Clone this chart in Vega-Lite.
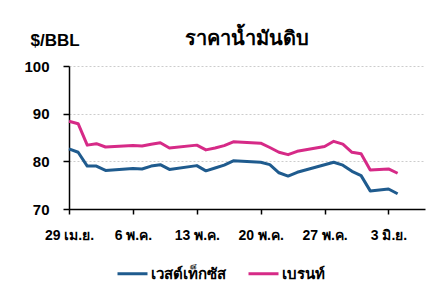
{
  "$schema": "https://vega.github.io/schema/vega-lite/v6.json",
  "autosize": "none",
  "width": 356,
  "height": 143,
  "padding": {"left": 69, "top": 66, "right": 6, "bottom": 77},
  "background": "white",
  "title": {
    "text": "ราคาน้ำมันดิบ",
    "anchor": "middle",
    "fontSize": 20,
    "fontWeight": "bold",
    "font": "Liberation Sans",
    "color": "#000000",
    "offset": -18
  },
  "config": {
    "view": {"stroke": null},
    "font": "Liberation Sans"
  },
  "data": {
    "values": [
      {"date": "2024-04-29", "series": "เวสต์เท็กซัส", "price": 82.6},
      {"date": "2024-04-30", "series": "เวสต์เท็กซัส", "price": 81.9},
      {"date": "2024-05-01", "series": "เวสต์เท็กซัส", "price": 79.0},
      {"date": "2024-05-02", "series": "เวสต์เท็กซัส", "price": 79.0},
      {"date": "2024-05-03", "series": "เวสต์เท็กซัส", "price": 78.1},
      {"date": "2024-05-06", "series": "เวสต์เท็กซัส", "price": 78.5},
      {"date": "2024-05-07", "series": "เวสต์เท็กซัส", "price": 78.4},
      {"date": "2024-05-08", "series": "เวสต์เท็กซัส", "price": 79.0},
      {"date": "2024-05-09", "series": "เวสต์เท็กซัส", "price": 79.3},
      {"date": "2024-05-10", "series": "เวสต์เท็กซัส", "price": 78.3},
      {"date": "2024-05-13", "series": "เวสต์เท็กซัส", "price": 79.1},
      {"date": "2024-05-14", "series": "เวสต์เท็กซัส", "price": 78.0},
      {"date": "2024-05-15", "series": "เวสต์เท็กซัส", "price": 78.6},
      {"date": "2024-05-16", "series": "เวสต์เท็กซัส", "price": 79.2},
      {"date": "2024-05-17", "series": "เวสต์เท็กซัส", "price": 80.1},
      {"date": "2024-05-20", "series": "เวสต์เท็กซัส", "price": 79.8},
      {"date": "2024-05-21", "series": "เวสต์เท็กซัส", "price": 79.3},
      {"date": "2024-05-22", "series": "เวสต์เท็กซัส", "price": 77.6},
      {"date": "2024-05-23", "series": "เวสต์เท็กซัส", "price": 76.9},
      {"date": "2024-05-24", "series": "เวสต์เท็กซัส", "price": 77.7},
      {"date": "2024-05-28", "series": "เวสต์เท็กซัส", "price": 79.8},
      {"date": "2024-05-29", "series": "เวสต์เท็กซัส", "price": 79.2},
      {"date": "2024-05-30", "series": "เวสต์เท็กซัส", "price": 77.9},
      {"date": "2024-05-31", "series": "เวสต์เท็กซัส", "price": 77.0},
      {"date": "2024-06-01", "series": "เวสต์เท็กซัส", "price": 73.8},
      {"date": "2024-06-03", "series": "เวสต์เท็กซัส", "price": 74.2},
      {"date": "2024-06-04", "series": "เวสต์เท็กซัส", "price": 73.2},
      {"date": "2024-04-29", "series": "เบรนท์", "price": 88.4},
      {"date": "2024-04-30", "series": "เบรนท์", "price": 87.9},
      {"date": "2024-05-01", "series": "เบรนท์", "price": 83.4},
      {"date": "2024-05-02", "series": "เบรนท์", "price": 83.7},
      {"date": "2024-05-03", "series": "เบรนท์", "price": 83.0},
      {"date": "2024-05-06", "series": "เบรนท์", "price": 83.3},
      {"date": "2024-05-07", "series": "เบรนท์", "price": 83.2},
      {"date": "2024-05-08", "series": "เบรนท์", "price": 83.6},
      {"date": "2024-05-09", "series": "เบรนท์", "price": 83.9},
      {"date": "2024-05-10", "series": "เบรนท์", "price": 82.8},
      {"date": "2024-05-13", "series": "เบรนท์", "price": 83.4},
      {"date": "2024-05-14", "series": "เบรนท์", "price": 82.4},
      {"date": "2024-05-15", "series": "เบรนท์", "price": 82.8},
      {"date": "2024-05-16", "series": "เบรนท์", "price": 83.3},
      {"date": "2024-05-17", "series": "เบรนท์", "price": 84.1},
      {"date": "2024-05-20", "series": "เบรนท์", "price": 83.8},
      {"date": "2024-05-21", "series": "เบรนท์", "price": 82.9},
      {"date": "2024-05-22", "series": "เบรนท์", "price": 81.9},
      {"date": "2024-05-23", "series": "เบรนท์", "price": 81.4},
      {"date": "2024-05-24", "series": "เบรนท์", "price": 82.1},
      {"date": "2024-05-27", "series": "เบรนท์", "price": 83.1},
      {"date": "2024-05-28", "series": "เบรนท์", "price": 84.2},
      {"date": "2024-05-29", "series": "เบรนท์", "price": 83.6},
      {"date": "2024-05-30", "series": "เบรนท์", "price": 81.9},
      {"date": "2024-05-31", "series": "เบรนท์", "price": 81.6},
      {"date": "2024-06-01", "series": "เบรนท์", "price": 78.2},
      {"date": "2024-06-03", "series": "เบรนท์", "price": 78.4},
      {"date": "2024-06-04", "series": "เบรนท์", "price": 77.5}
    ]
  },
  "mark": {"type": "line", "strokeWidth": 3, "strokeJoin": "round"},
  "encoding": {
    "x": {
      "field": "date",
      "type": "temporal",
      "scale": {
        "type": "utc",
        "domain": [
          {"year": 2024, "month": 4, "date": 29, "utc": true},
          {"year": 2024, "month": 6, "date": 7, "utc": true}
        ]
      },
      "axis": {
        "title": null,
        "values": [
          {"year": 2024, "month": 4, "date": 29, "utc": true},
          {"year": 2024, "month": 5, "date": 6, "utc": true},
          {"year": 2024, "month": 5, "date": 13, "utc": true},
          {"year": 2024, "month": 5, "date": 20, "utc": true},
          {"year": 2024, "month": 5, "date": 27, "utc": true},
          {"year": 2024, "month": 6, "date": 3, "utc": true}
        ],
        "labelExpr": "utcdate(datum.value) + ' ' + ['ม.ค.','ก.พ.','มี.ค.','เม.ย.','พ.ค.','มิ.ย.','ก.ค.'][utcmonth(datum.value)]",
        "labelOverlap": false,
        "labelBound": false,
        "labelFlush": false,
        "grid": false,
        "domainColor": "#000000",
        "domainWidth": 1.5,
        "tickColor": "#000000",
        "tickWidth": 1.5,
        "tickSize": 5,
        "labelFontSize": 14,
        "labelFontWeight": "bold",
        "labelColor": "#000000",
        "labelPadding": 14,
        "labelFont": "Liberation Sans"
      }
    },
    "y": {
      "field": "price",
      "type": "quantitative",
      "scale": {"domain": [70, 100], "nice": false, "zero": false},
      "axis": {
        "values": [70, 80, 90, 100],
        "title": "$/BBL",
        "titleAngle": 0,
        "titleAlign": "left",
        "titleBaseline": "alphabetic",
        "titleX": -39,
        "titleY": -21,
        "titleFontSize": 17,
        "titleFontWeight": "bold",
        "titleColor": "#000000",
        "titleFont": "Liberation Sans",
        "grid": true,
        "gridColor": "#cccccc",
        "gridDash": [2, 2],
        "gridWidth": 1,
        "domainColor": "#000000",
        "domainWidth": 1.5,
        "tickColor": "#000000",
        "tickWidth": 1.5,
        "tickSize": 6,
        "labelFontSize": 15,
        "labelFontWeight": "bold",
        "labelColor": "#000000",
        "labelPadding": 14,
        "labelFont": "Liberation Sans"
      }
    },
    "color": {
      "field": "series",
      "type": "nominal",
      "scale": {
        "domain": ["เวสต์เท็กซัส", "เบรนท์"],
        "range": ["#1f5b8e", "#d62a87"]
      },
      "legend": {
        "title": null,
        "orient": "none",
        "direction": "horizontal",
        "legendX": 47,
        "legendY": 191,
        "symbolType": "stroke",
        "symbolSize": 900,
        "symbolStrokeWidth": 3,
        "labelFontSize": 15,
        "labelFontWeight": "bold",
        "labelColor": "#000000",
        "labelFont": "Liberation Sans",
        "labelOffset": 2,
        "columnPadding": 16
      }
    }
  }
}
